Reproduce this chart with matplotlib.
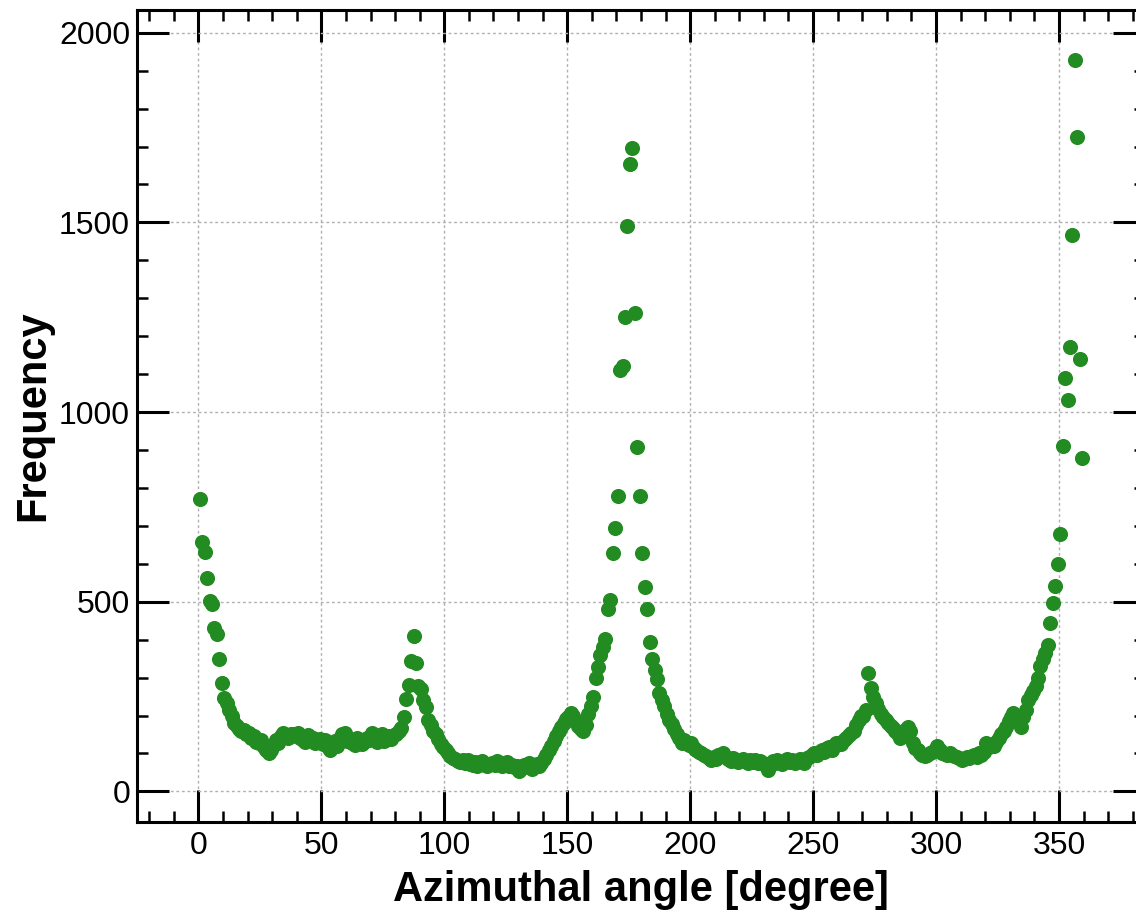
# Azimuthal angle distribution - scatter
import numpy as np
import matplotlib.pyplot as plt
from matplotlib.ticker import MultipleLocator

plt.rcParams['font.family'] = ['Liberation Sans', 'DejaVu Sans']

# bin centres, one per degree
angle = np.arange(360) + 0.5

# frequency per bin
freq = [
    770, 658, 631, 563, 501, 495, 432, 416, 350, 287,
    245, 232, 215, 198, 180, 172, 165, 158, 162, 150,
    155, 140, 145, 130, 128, 135, 118, 110, 102, 108,
    120, 136, 128, 145, 155, 148, 140, 152, 150, 146,
    155, 142, 136, 130, 148, 135, 140, 128, 132, 138,
    125, 136, 118, 110, 128, 132, 120, 140, 150, 155,
    132, 138, 128, 122, 140, 135, 125, 130, 142, 135,
    155, 138, 130, 145, 150, 132, 140, 145, 138, 148,
    150, 158, 168, 195, 244, 281, 343, 410, 339, 279,
    270, 242, 222, 189, 175, 160, 150, 138, 125, 118,
    110, 100, 92, 88, 85, 80, 78, 84, 75, 82,
    72, 70, 78, 68, 74, 80, 70, 66, 72, 76,
    70, 80, 74, 68, 72, 78, 66, 70, 64, 68,
    55, 62, 70, 66, 74, 60, 68, 72, 66, 75,
    85, 95, 110, 119, 132, 145, 160, 171, 180, 190,
    195, 207, 200, 185, 172, 165, 160, 175, 205, 225,
    250, 300, 327, 360, 380, 403, 480, 505, 628, 694,
    778, 1112, 1122, 1251, 1491, 1655, 1695, 1262, 909, 778,
    628, 538, 480, 393, 349, 320, 297, 260, 240, 224,
    205, 189, 178, 165, 150, 140, 128, 135, 128, 122,
    128, 115, 110, 104, 101, 95, 92, 88, 84, 90,
    86, 95, 92, 101, 90, 85, 80, 88, 84, 78,
    82, 86, 80, 76, 84, 78, 82, 74, 80, 76,
    70, 57, 72, 80, 76, 84, 78, 72, 80, 86,
    78, 84, 76, 80, 86, 82, 76, 88, 90, 95,
    101, 96, 105, 110, 104, 114, 118, 110, 120, 128,
    128, 124, 135, 140, 148, 154, 160, 175, 189, 200,
    200, 215, 312, 273, 250, 232, 218, 205, 195, 189,
    180, 172, 168, 160, 150, 140, 150, 162, 170, 160,
    128, 115, 110, 102, 96, 92, 95, 100, 105, 110,
    119, 110, 102, 98, 95, 100, 96, 92, 90, 88,
    84, 86, 90, 88, 92, 95, 90, 100, 95, 105,
    128, 118, 122, 119, 130, 140, 150, 160, 171, 185,
    195, 207, 200, 185, 171, 195, 215, 242, 255, 265,
    277, 300, 330, 350, 365, 385, 444, 497, 541, 599,
    678, 910, 1091, 1032, 1172, 1467, 1927, 1725, 1140, 879,
]

fig = plt.figure(figsize=(11.36, 9.10), dpi=100)
# the right spine sits just past the edge of the picture
ax = fig.add_axes([0.1206, 0.097, 0.8873, 0.892])

ax.scatter(angle, freq, s=118, color='#228B22', linewidths=0, zorder=3)

ax.set_xlim(-25, 385)
ax.set_ylim(-80, 2060)
ax.xaxis.set_major_locator(MultipleLocator(50))
ax.xaxis.set_minor_locator(MultipleLocator(10))
ax.yaxis.set_major_locator(MultipleLocator(500))
ax.yaxis.set_minor_locator(MultipleLocator(100))

ax.tick_params(which='both', direction='in', top=True, right=True)
ax.tick_params(which='major', length=23, width=2.2, labelsize=23)
ax.tick_params(which='minor', length=8, width=1.8)
ax.tick_params(axis='x', which='major', pad=7)
ax.tick_params(axis='y', which='major', pad=5)
for s in ax.spines.values():
    s.set_linewidth(2.2)

ax.grid(True, which='major', color='#b0b0b0', linestyle=(0, (2, 2)), linewidth=1.0)
ax.set_axisbelow(True)

ax.set_xlabel('Azimuthal angle [degree]', fontsize=30, fontweight='bold', labelpad=6)
ax.set_ylabel('Frequency', fontsize=30, fontweight='bold', labelpad=4)

plt.savefig('out.png', dpi=100)
